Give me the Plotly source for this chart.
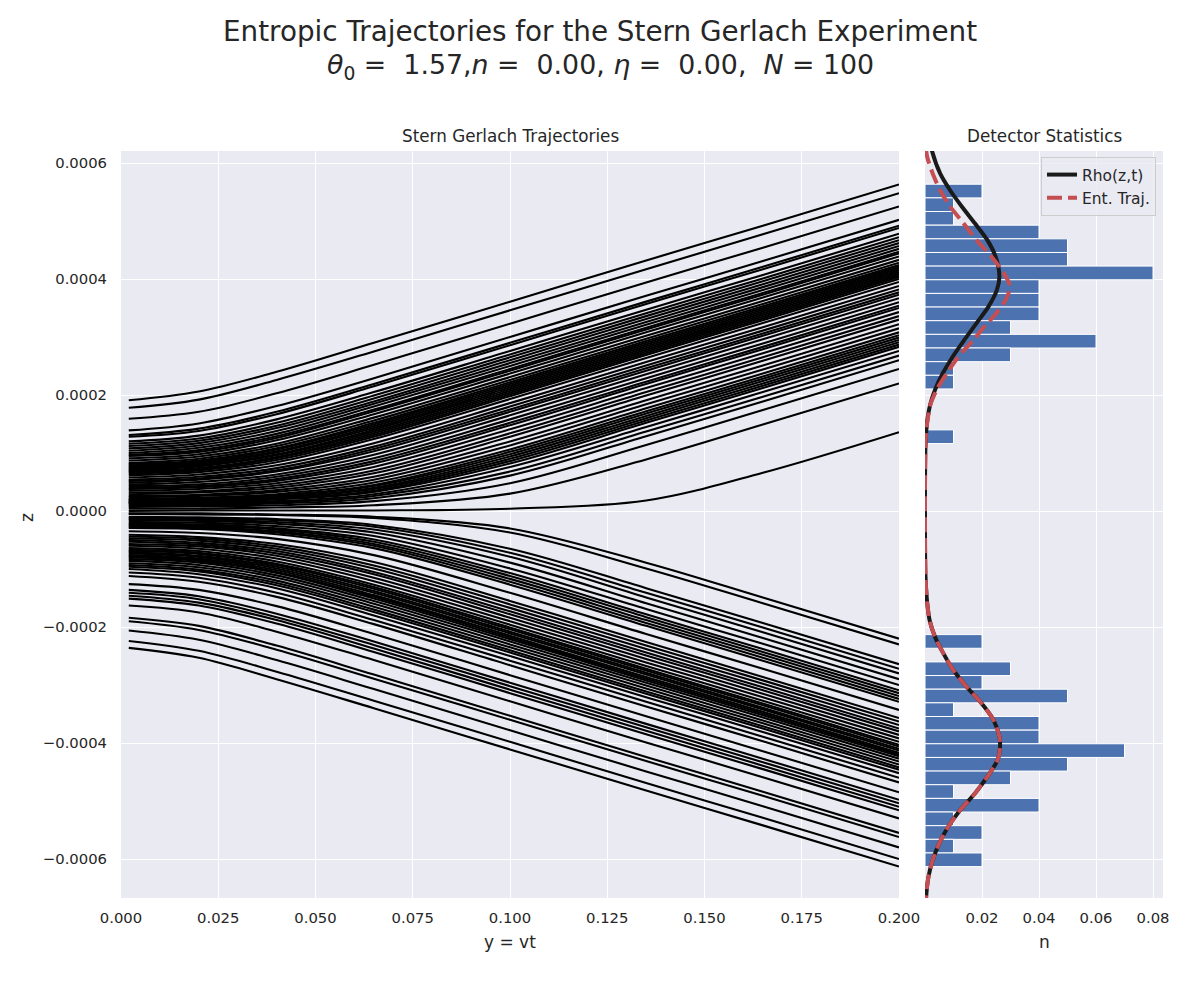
import plotly.graph_objects as go

# ---------------- data ----------------
# Trajectories: z (units of 1e-6) of each of the N = 100 trajectories at a few y = vt stations
y_stations = [0.002, 0.02, 0.04, 0.065, 0.1, 0.135, 0.165, 0.2]

z_y002 = [191, 178, 159, 139, 131, 128, 120, 116, 112, 108, 104, 100, 97, 95, 91, 87, 83, 81, 79, 77, 75, 73, 71, 69, 67,
          65, 62, 58, 54, 52, 49, 46, 43, 40, 38, 35, 32, 29, 26, 24, 21, 20, 19, 17, 16, 15, 14, 13, 11, 9,
          7, 4, 0, -4, -5, -10, -12, -14, -16, -19, -22, -23, -25, -27, -29, -35, -41, -44, -47, -50, -53, -57, -60, -64, -67,
          -69, -71, -73, -76, -78, -80, -83, -86, -90, -93, -96, -100, -106, -112, -126, -136, -141, -146, -151, -163, -184, -190, -206, -224, -236]
z_y020 = [206, 192, 171, 151, 142, 138, 130, 125, 121, 117, 113, 109, 105, 102, 98, 94, 90, 87, 85, 83, 81, 79, 77, 74, 72,
          70, 67, 63, 59, 56, 54, 50, 46, 43, 41, 38, 34, 32, 28, 26, 23, 21, 20, 19, 18, 17, 15, 14, 12, 10,
          8, 4, 1, -4, -6, -11, -13, -15, -17, -20, -23, -25, -27, -29, -31, -38, -45, -48, -51, -55, -58, -61, -65, -69, -72,
          -74, -77, -79, -82, -84, -86, -89, -93, -97, -101, -104, -109, -115, -122, -136, -147, -152, -158, -163, -175, -198, -205, -222, -241, -253]
z_y040 = [240, 226, 203, 181, 171, 167, 158, 152, 147, 143, 138, 133, 129, 126, 122, 116, 112, 108, 106, 103, 101, 98, 96, 93, 91,
          88, 84, 79, 74, 70, 68, 63, 59, 55, 52, 48, 44, 40, 36, 33, 29, 27, 26, 24, 23, 21, 20, 17, 15, 13,
          10, 6, 1, -6, -7, -14, -16, -19, -22, -26, -30, -32, -35, -37, -40, -48, -57, -61, -65, -69, -73, -77, -82, -87, -91,
          -93, -96, -99, -102, -105, -107, -111, -115, -120, -124, -128, -133, -141, -148, -164, -177, -183, -188, -194, -208, -232, -239, -257, -277, -290]
z_y065 = [290, 275, 252, 229, 219, 215, 205, 199, 194, 189, 185, 180, 175, 172, 167, 161, 156, 152, 149, 146, 143, 140, 137, 134, 131,
          128, 124, 117, 111, 107, 103, 97, 91, 86, 82, 76, 70, 65, 59, 54, 49, 45, 43, 40, 38, 35, 33, 29, 26, 22,
          17, 10, 1, -10, -12, -24, -27, -32, -37, -43, -49, -53, -57, -60, -64, -76, -88, -94, -99, -105, -109, -115, -121, -127, -131,
          -134, -138, -141, -145, -148, -151, -155, -160, -165, -170, -174, -180, -188, -195, -212, -225, -231, -237, -243, -257, -282, -289, -307, -327, -340]
z_y100 = [361, 346, 323, 300, 290, 286, 276, 270, 265, 260, 255, 250, 245, 242, 237, 231, 226, 222, 219, 216, 213, 210, 207, 204, 201,
          198, 193, 186, 180, 175, 171, 165, 158, 152, 148, 141, 134, 128, 120, 113, 106, 102, 98, 94, 90, 86, 82, 76, 68, 61,
          48, 30, 4, -30, -37, -65, -72, -79, -89, -99, -107, -112, -117, -122, -127, -141, -155, -161, -167, -173, -178, -184, -190, -196, -201,
          -204, -208, -211, -215, -218, -221, -225, -230, -235, -240, -244, -250, -258, -266, -283, -296, -302, -308, -314, -328, -353, -360, -378, -398, -411]
z_y135 = [432, 417, 394, 371, 361, 357, 347, 341, 336, 331, 326, 321, 316, 313, 308, 302, 297, 293, 290, 287, 284, 281, 278, 275, 272,
          269, 264, 257, 251, 246, 242, 236, 229, 223, 219, 212, 205, 199, 191, 184, 177, 172, 168, 164, 160, 156, 152, 145, 137, 129,
          114, 89, 18, -89, -99, -133, -141, -149, -159, -169, -178, -183, -188, -193, -198, -212, -226, -232, -238, -244, -249, -255, -261, -267, -272,
          -275, -279, -282, -286, -289, -292, -296, -301, -306, -311, -315, -321, -329, -337, -354, -367, -373, -379, -385, -399, -424, -431, -449, -469, -482]
z_y165 = [492, 477, 454, 431, 421, 417, 407, 401, 396, 391, 386, 381, 376, 373, 368, 362, 357, 353, 350, 347, 344, 341, 338, 335, 332,
          329, 324, 317, 311, 306, 302, 296, 289, 283, 279, 272, 265, 259, 251, 244, 237, 232, 228, 224, 220, 216, 212, 205, 197, 189,
          174, 149, 66, -149, -159, -193, -201, -209, -219, -229, -238, -243, -248, -253, -258, -272, -286, -292, -298, -304, -309, -315, -321, -327, -332,
          -335, -339, -342, -346, -349, -352, -356, -361, -366, -371, -375, -381, -389, -397, -414, -427, -433, -439, -445, -459, -484, -491, -509, -529, -542]
z_y200 = [563, 548, 525, 502, 492, 488, 478, 472, 467, 462, 457, 452, 447, 444, 439, 433, 428, 424, 421, 418, 415, 412, 409, 406, 403,
          400, 395, 388, 382, 377, 373, 367, 360, 354, 350, 343, 336, 330, 322, 315, 308, 303, 299, 295, 291, 287, 283, 276, 268, 260,
          245, 220, 136, -220, -230, -264, -272, -280, -290, -300, -309, -314, -319, -324, -329, -343, -357, -363, -369, -375, -380, -386, -392, -398, -403,
          -406, -410, -413, -417, -420, -423, -427, -432, -437, -442, -446, -452, -460, -468, -485, -498, -504, -510, -516, -530, -555, -562, -580, -600, -613]

# Detector histogram: 50 bins from top to bottom, value n per bin
hist_z_top = 5.634e-4
hist_z_bottom = -6.131e-4
hist_n = [0.02, 0.01, 0.01, 0.04, 0.05, 0.05, 0.08, 0.04, 0.04, 0.04, 0.03, 0.06, 0.03, 0.01, 0.01,
          0, 0, 0, 0.01, 0, 0, 0, 0, 0, 0, 0, 0, 0, 0, 0, 0, 0, 0,
          0.02, 0, 0.03, 0.02, 0.05, 0.01, 0.04, 0.04, 0.07, 0.05, 0.03, 0.01, 0.04, 0.01, 0.02, 0.01, 0.02]

# Density curves (z in units of 1e-4)
rho_z = [6.8, 6.5, 6.22, 5.82, 5.53, 5.25, 4.96, 4.67, 4.38, 4.04, 3.81, 3.52, 3.24, 2.95, 2.66, 2.37,
         2.10, 1.85, 1.60, 1.35, 1.10, 0.80, 0.40, 0.0, -0.40, -0.80, -1.10, -1.35, -1.60, -1.88, -2.17,
         -2.45, -2.74, -3.03, -3.32, -3.60, -3.89, -4.09, -4.29, -4.58, -4.87, -5.16, -5.44, -5.73,
         -6.02, -6.31, -6.65, -6.9]
rho_n = [0.0006, 0.0013, 0.0024, 0.0053, 0.0088, 0.0129, 0.0175, 0.0219, 0.0248, 0.0261, 0.0252,
         0.0222, 0.0181, 0.0138, 0.0097, 0.0062, 0.0036, 0.0019, 0.0009, 0.0004, 0.00015, 0.00005,
         0.0, 0.0, 0.0, 0.00005, 0.00015, 0.0004, 0.0008, 0.0016, 0.0035, 0.0064, 0.0099, 0.0146,
         0.0199, 0.0240, 0.0261, 0.0263, 0.0255, 0.0219, 0.0175, 0.0123, 0.0082, 0.0050, 0.0027,
         0.0012, 0.0004, 0.0002]
ent_z = [6.6, 6.3, 6.1, 5.82, 5.53, 5.25, 4.96, 4.67, 4.38, 4.10, 3.87, 3.65, 3.42, 3.19, 2.95, 2.66,
         2.37, 2.10, 1.85, 1.60, 1.35, 1.10, 0.80, 0.40, 0.0, -0.40, -0.80, -1.10, -1.35, -1.60, -1.88,
         -2.17, -2.45, -2.74, -3.03, -3.32, -3.60, -3.89, -4.09, -4.29, -4.58, -4.87, -5.16, -5.44,
         -5.73, -6.02, -6.31, -6.65, -6.9]
ent_n = [0.0, 0.0002, 0.0008, 0.0027, 0.0053, 0.0088, 0.0135, 0.0181, 0.0234, 0.0277, 0.0298, 0.0284,
         0.0252, 0.0210, 0.0170, 0.0117, 0.0076, 0.0042, 0.0020, 0.0010, 0.0004, 0.00015, 0.00005,
         0.0, 0.0, 0.0, 0.00005, 0.00015, 0.0004, 0.0008, 0.0016, 0.0035, 0.0064, 0.0099, 0.0146,
         0.0199, 0.0240, 0.0261, 0.0263, 0.0255, 0.0219, 0.0175, 0.0123, 0.0082, 0.0050, 0.0027,
         0.0012, 0.0004, 0.0002]

x1_ticks = [0.0, 0.025, 0.05, 0.075, 0.1, 0.125, 0.15, 0.175, 0.2]
x1_labels = ["0.000", "0.025", "0.050", "0.075", "0.100", "0.125", "0.150", "0.175", "0.200"]
z_ticks = [-6e-4, -4e-4, -2e-4, 0.0, 2e-4, 4e-4, 6e-4]
z_labels = ["\u22120.0006", "\u22120.0004", "\u22120.0002", "0.0000", "0.0002", "0.0004", "0.0006"]
x2_ticks = [0.02, 0.04, 0.06, 0.08]
x2_labels = ["0.02", "0.04", "0.06", "0.08"]

# ---------------- figure ----------------
INK = "#262626"
FONT = "DejaVu Sans"
fig = go.Figure()

stations = [z_y002, z_y020, z_y040, z_y065, z_y100, z_y135, z_y165, z_y200]
for i in range(len(z_y200)):
    fig.add_trace(go.Scatter(x=y_stations, y=[s[i] * 1e-6 for s in stations], mode="lines",
                             line=dict(color="#000000", width=2.1, shape="spline", smoothing=1.0),
                             showlegend=False, hoverinfo="skip", xaxis="x", yaxis="y"))

nb = len(hist_n)
bw = (hist_z_top - hist_z_bottom) / nb
bar_y, bar_x = [], []
for k, v in enumerate(hist_n):
    if v > 0:
        bar_y.append(hist_z_top - (k + 0.5) * bw)
        bar_x.append(v)
fig.add_trace(go.Bar(orientation="h", x=bar_x, y=bar_y, width=bw,
                     marker=dict(color="#4C72B0", line=dict(color="white", width=1)),
                     showlegend=False, hoverinfo="skip", xaxis="x2", yaxis="y2"))

fig.add_trace(go.Scatter(x=rho_n, y=[z * 1e-4 for z in rho_z], mode="lines", name="Rho(z,t)",
                         line=dict(color="#1a1a1a", width=4, shape="spline", smoothing=0.8),
                         xaxis="x2", yaxis="y2"))
fig.add_trace(go.Scatter(x=ent_n, y=[z * 1e-4 for z in ent_z], mode="lines", name="Ent. Traj.",
                         line=dict(color="#C44E52", width=4, dash="15px,6px", shape="spline", smoothing=0.8),
                         xaxis="x2", yaxis="y2"))

zr = [-6.672e-4, 6.207e-4]
common = dict(showgrid=True, gridcolor="white", gridwidth=1.4, zeroline=False, showline=False, automargin=False,
              ticks="outside", tickcolor="rgba(0,0,0,0)", tickfont=dict(family=FONT, size=14.8, color=INK))
fig.update_layout(
    width=1200, height=1000, margin=dict(l=0, r=0, t=0, b=0, autoexpand=False),
    paper_bgcolor="white", plot_bgcolor="#EAEAF2", font=dict(family=FONT, color=INK),
    xaxis=dict(domain=[121 / 1200, 899 / 1200], range=[0, 0.2], tickvals=x1_ticks, ticktext=x1_labels,
               anchor="y", ticklen=6, **common),
    yaxis=dict(domain=[0.102, 0.849], range=zr, tickvals=z_ticks, ticktext=z_labels, anchor="x",
               ticklen=10, **common),
    xaxis2=dict(domain=[925 / 1200, 1163 / 1200], range=[0, 0.0835], tickvals=x2_ticks, ticktext=x2_labels,
                anchor="y2", ticklen=6, **common),
    yaxis2=dict(domain=[0.102, 0.849], range=zr, tickvals=z_ticks, ticktext=z_labels, showticklabels=False,
                anchor="x2", matches="y", **common),
    legend=dict(x=1156 / 1200, y=1 - 157 / 1000, xanchor="right", yanchor="top",
                bgcolor="rgba(234,234,242,0.8)", bordercolor="#cccccc", borderwidth=1,
                font=dict(family=FONT, size=15.5, color=INK)),
    showlegend=True,
)

def ann(text, x, y, size, angle=0):
    fig.add_annotation(text=text, x=x, y=y, xref="paper", yref="paper", showarrow=False,
                       xanchor="center", yanchor="middle", textangle=angle,
                       font=dict(family=FONT, size=size, color=INK))

sp = "\u00a0"
ann("Entropic Trajectories for the Stern Gerlach Experiment", 0.5, 1 - 31 / 1000, 27.8)
ann("<i>\u03b8</i><sub>0</sub>" + sp + "=" + sp + sp + "1.57,<i>n</i>" + sp + "=" + sp + sp + "0.00," + sp +
    "<i>\u03b7</i>" + sp + "=" + sp + sp + "0.00," + sp + sp + "<i>N</i>" + sp + "=" + sp + "100",
    0.5, 1 - 66 / 1000, 26.8)
ann("Stern Gerlach Trajectories", 510 / 1200, 1 - 136 / 1000, 16.8)
ann("Detector Statistics", 1044 / 1200, 1 - 136 / 1000, 16.8)
ann("y = vt", 510 / 1200, 1 - 942 / 1000, 17)
ann("n", 1044 / 1200, 1 - 942 / 1000, 17)
ann("z", 27 / 1200, 1 - 518 / 1000, 17, -90)

fig.write_html("out.html")
